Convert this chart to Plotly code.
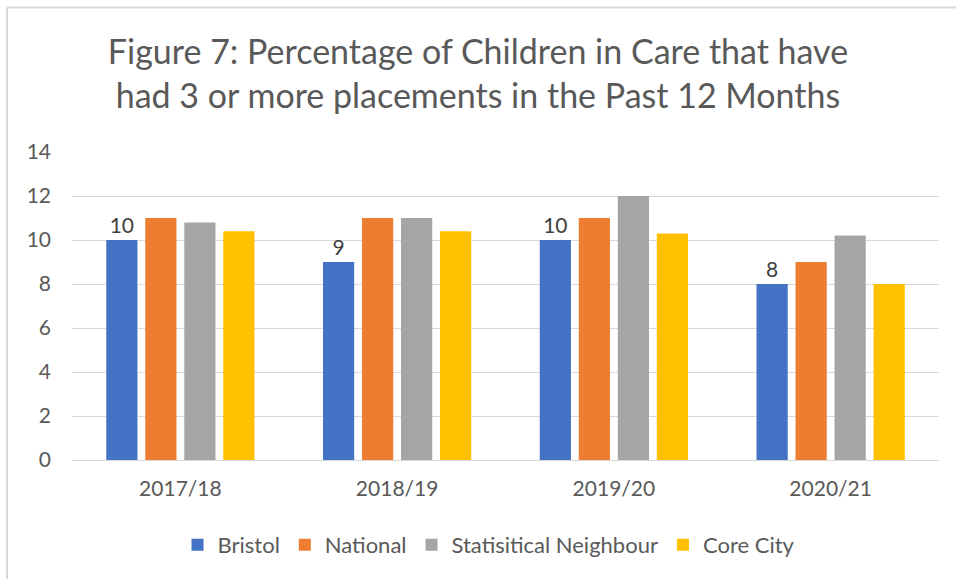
import plotly.graph_objects as go

categories = ["2017/18", "2018/19", "2019/20", "2020/21"]
bristol = [10, 9, 10, 8]
national = [11, 11, 11, 9]
stat_neighbour = [10.8, 11, 12, 10.2]
core_city = [10.4, 10.4, 10.3, 8]
y_ticks = [0, 2, 4, 6, 8, 10, 12, 14]

FONT = "Lato"
TXT = "#595959"

fig = go.Figure()
fig.add_bar(name="Bristol", x=categories, y=bristol, marker_color="#4472C4",
            text=[str(v) for v in bristol], textposition="outside",
            textfont=dict(size=21, color="#404040", family=FONT), cliponaxis=False)
fig.add_bar(name="National", x=categories, y=national, marker_color="#ED7D31")
fig.add_bar(name="Statisitical Neighbour", x=categories, y=stat_neighbour, marker_color="#A5A5A5")
fig.add_bar(name="Core City", x=categories, y=core_city, marker_color="#FFC000")

fig.update_traces(marker_line_width=0)

fig.update_layout(
    width=956, height=579,
    paper_bgcolor="white", plot_bgcolor="white",
    margin=dict(l=72, r=17, t=152, b=119),
    barmode="group", bargap=0.28, bargroupgap=0.2,
    font=dict(family=FONT, color=TXT, size=21),
    title=dict(text="Figure 7: Percentage of Children in Care that have<br>had 3 or more placements in the Past 12 Months",
               x=0.5, xanchor="center", y=0.89, yanchor="middle",
               font=dict(size=34, color=TXT, family=FONT)),
    xaxis=dict(showgrid=False, showline=True, linecolor="#D9D9D9", linewidth=1,
               ticks="", ticklabelstandoff=10, tickfont=dict(size=21, color=TXT)),
    yaxis=dict(range=[0, 14], tickvals=y_ticks, showgrid=True, gridcolor="#D9D9D9",
               gridwidth=1, zeroline=False, showline=False, ticks="",
               ticklabelstandoff=20, tickfont=dict(size=21, color=TXT)),
    legend=dict(orientation="h", x=0.481, xanchor="center", y=-0.276, yanchor="middle",
                font=dict(size=22, color=TXT), itemwidth=30, tracegroupgap=0),
    showlegend=True,
)
fig.add_shape(type="line", xref="paper", yref="paper", x0=-65/867, x1=-65/867,
              y0=-2, y1=453/308.3, line=dict(color="#D9D9D9", width=2))
fig.add_shape(type="line", xref="paper", yref="paper", x0=-65/867, x1=2,
              y0=453/308.3, y1=453/308.3, line=dict(color="#D9D9D9", width=2))

fig.write_html("out.html")
